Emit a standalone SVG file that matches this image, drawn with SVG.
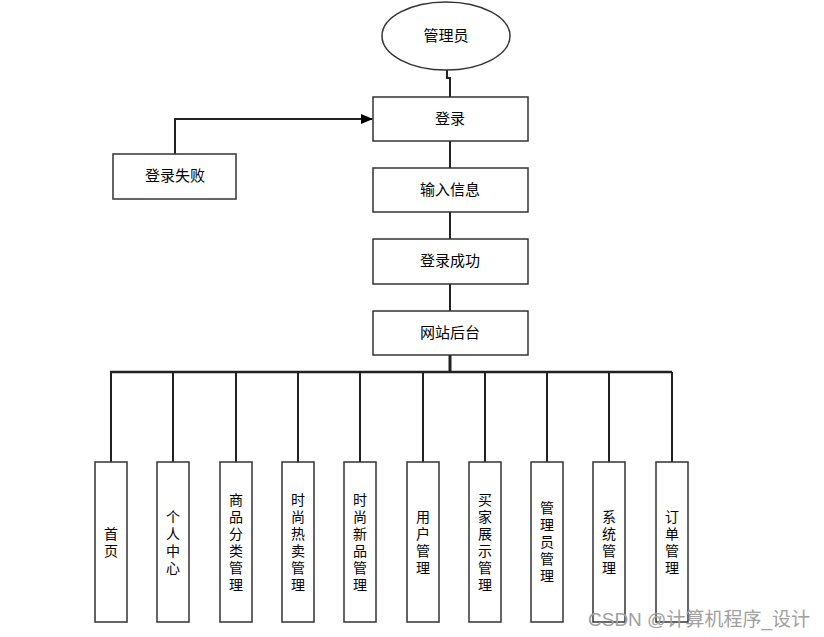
<svg xmlns="http://www.w3.org/2000/svg" width="824" height="637" viewBox="0 0 824 637">
<defs>
<style>
.n{fill:#fff;stroke:#333;stroke-width:1.5}
.t{font-family:"Liberation Sans","Noto Sans CJK SC",sans-serif;font-size:14px;fill:#000;text-anchor:middle}
.h{font-size:15px}
.c{fill:none;stroke:#222;stroke-width:2}
.wm{font-family:"Liberation Sans","Noto Sans CJK SC",sans-serif;font-size:19px;fill:#a0a0a0}
</style>
<marker id="ah" markerWidth="12" markerHeight="10" refX="11" refY="5" orient="auto" markerUnits="userSpaceOnUse">
<path d="M0,0 L12,5 L0,10 Z" fill="#000"/>
</marker>
</defs>
<rect width="824" height="637" fill="#fff"/>
<g id="connectors">
<path class="c" d="M447,70 V78 H450 V97"/>
<path class="c" d="M450,141 V168"/>
<path class="c" d="M450,212 V239"/>
<path class="c" d="M450,284 V311"/>
<path class="c" d="M175,154 V119 H372" marker-end="url(#ah)"/>
<path class="c" style="stroke-width:3" d="M450,355 V372"/>
<path class="c" style="stroke-width:2.5" d="M110,372 H672"/>
<path class="c" d="M111,372 V462 M173,372 V462 M236,372 V462 M298,372 V462 M360,372 V462 M423,372 V462 M485,372 V462 M547,372 V462 M609,372 V462 M672,372 V462"/>
</g>
<g id="admin"><ellipse class="n" cx="446" cy="36" rx="64" ry="34"/><text class="t h" x="446" y="41">管理员</text></g>
<g id="login"><rect class="n" x="373" y="97" width="155" height="44"/><text class="t h" x="450" y="124">登录</text></g>
<g id="input"><rect class="n" x="373" y="168" width="155" height="44"/><text class="t h" x="450" y="195">输入信息</text></g>
<g id="success"><rect class="n" x="373" y="239" width="155" height="45"/><text class="t h" x="450" y="266">登录成功</text></g>
<g id="backend"><rect class="n" x="373" y="311" width="155" height="44"/><text class="t h" x="450" y="338">网站后台</text></g>
<g id="fail"><rect class="n" x="113" y="154" width="123" height="45"/><text class="t h" x="175" y="181">登录失败</text></g>
<g id="m1"><rect class="n" x="95" y="462" width="32" height="160"/><text class="t" x="111" y="538.5"><tspan x="111">首</tspan><tspan x="111" dy="17">页</tspan></text></g>
<g id="m2"><rect class="n" x="157" y="462" width="32" height="160"/><text class="t" x="173" y="521.5"><tspan x="173">个</tspan><tspan x="173" dy="17">人</tspan><tspan x="173" dy="17">中</tspan><tspan x="173" dy="17">心</tspan></text></g>
<g id="m3"><rect class="n" x="220" y="462" width="32" height="160"/><text class="t" x="236" y="504.5"><tspan x="236">商</tspan><tspan x="236" dy="17">品</tspan><tspan x="236" dy="17">分</tspan><tspan x="236" dy="17">类</tspan><tspan x="236" dy="17">管</tspan><tspan x="236" dy="17">理</tspan></text></g>
<g id="m4"><rect class="n" x="282" y="462" width="32" height="160"/><text class="t" x="298" y="504.5"><tspan x="298">时</tspan><tspan x="298" dy="17">尚</tspan><tspan x="298" dy="17">热</tspan><tspan x="298" dy="17">卖</tspan><tspan x="298" dy="17">管</tspan><tspan x="298" dy="17">理</tspan></text></g>
<g id="m5"><rect class="n" x="344" y="462" width="32" height="160"/><text class="t" x="360" y="504.5"><tspan x="360">时</tspan><tspan x="360" dy="17">尚</tspan><tspan x="360" dy="17">新</tspan><tspan x="360" dy="17">品</tspan><tspan x="360" dy="17">管</tspan><tspan x="360" dy="17">理</tspan></text></g>
<g id="m6"><rect class="n" x="407" y="462" width="32" height="160"/><text class="t" x="423" y="521.5"><tspan x="423">用</tspan><tspan x="423" dy="17">户</tspan><tspan x="423" dy="17">管</tspan><tspan x="423" dy="17">理</tspan></text></g>
<g id="m7"><rect class="n" x="469" y="462" width="32" height="160"/><text class="t" x="485" y="504.5"><tspan x="485">买</tspan><tspan x="485" dy="17">家</tspan><tspan x="485" dy="17">展</tspan><tspan x="485" dy="17">示</tspan><tspan x="485" dy="17">管</tspan><tspan x="485" dy="17">理</tspan></text></g>
<g id="m8"><rect class="n" x="531" y="462" width="32" height="160"/><text class="t" x="547" y="513"><tspan x="547">管</tspan><tspan x="547" dy="17">理</tspan><tspan x="547" dy="17">员</tspan><tspan x="547" dy="17">管</tspan><tspan x="547" dy="17">理</tspan></text></g>
<g id="m9"><rect class="n" x="593" y="462" width="32" height="160"/><text class="t" x="609" y="521.5"><tspan x="609">系</tspan><tspan x="609" dy="17">统</tspan><tspan x="609" dy="17">管</tspan><tspan x="609" dy="17">理</tspan></text></g>
<g id="m10"><rect class="n" x="656" y="462" width="32" height="160"/><text class="t" x="672" y="521.5"><tspan x="672">订</tspan><tspan x="672" dy="17">单</tspan><tspan x="672" dy="17">管</tspan><tspan x="672" dy="17">理</tspan></text></g>
<text class="wm" x="588" y="626">CSDN @计算机程序_设计</text>
</svg>
